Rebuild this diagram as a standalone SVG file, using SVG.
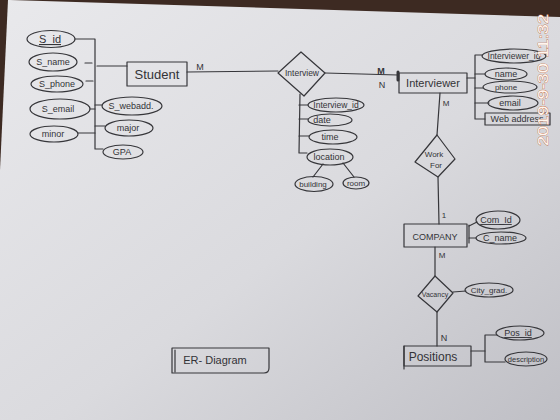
<svg xmlns="http://www.w3.org/2000/svg" width="560" height="420" viewBox="0 0 560 420">
<defs>
<linearGradient id="paper" x1="0" y1="0" x2="1" y2="1">
<stop offset="0" stop-color="#e9e9ec"/>
<stop offset="0.55" stop-color="#dadade"/>
<stop offset="1" stop-color="#bfbfc5"/>
</linearGradient>
<style>
.ink{fill:none;stroke:#36363a;stroke-width:1.2;stroke-linecap:round;stroke-linejoin:round}
.t{font-family:"Liberation Sans","DejaVu Sans",sans-serif;fill:#333337;text-anchor:middle}
.a{font-size:9px}
.k{text-decoration:underline}
</style>
</defs>
<rect x="0" y="0" width="560" height="420" fill="#3d2a22"/>
<polygon points="8,0 10,0 560,17 560,420 0,420 0,170" fill="url(#paper)"/>

<g id="connectors" class="ink">
<polyline points="75,39 95,39 95,149 103,149"/>
<line x1="85" y1="63" x2="92" y2="63"/>
<line x1="86" y1="81" x2="93" y2="81"/>
<line x1="90" y1="109" x2="95" y2="109"/>
<line x1="78" y1="133" x2="95" y2="133"/>
<line x1="95" y1="105" x2="102" y2="105"/>
<line x1="95" y1="126" x2="105" y2="126"/>
<line x1="97" y1="66" x2="127" y2="66"/>
<line x1="187" y1="72" x2="278" y2="71"/>
<line x1="325" y1="73" x2="398" y2="75"/>
<line x1="398" y1="72" x2="398" y2="80" stroke-width="3"/>
<polyline points="300,94 299,153 307,153"/>
<line x1="299" y1="105" x2="308" y2="105"/>
<line x1="299" y1="119" x2="308" y2="119"/>
<line x1="299" y1="136" x2="309" y2="136"/>
<line x1="323" y1="164" x2="313" y2="177"/>
<line x1="343" y1="163" x2="354" y2="177"/>
<line x1="467" y1="78" x2="475" y2="78"/>
<polyline points="482,55 475,55 475,119 485,119"/>
<line x1="475" y1="74" x2="485" y2="74"/>
<line x1="475" y1="88" x2="483" y2="88"/>
<line x1="475" y1="103" x2="489" y2="103"/>
<line x1="440" y1="93" x2="437" y2="135"/>
<line x1="438" y1="177" x2="439" y2="224"/>
<line x1="469" y1="225" x2="469" y2="243"/>
<line x1="469" y1="226" x2="477" y2="222"/>
<line x1="469" y1="238" x2="476" y2="238"/>
<line x1="435" y1="247" x2="435" y2="276"/>
<line x1="453" y1="292" x2="466" y2="291"/>
<line x1="437" y1="312" x2="437" y2="346"/>
<polyline points="471,351 485,351"/>
<polyline points="497,335 485,335 485,362 505,362"/>
</g>

<g id="cardinality" class="t">
<text x="200" y="70" font-size="9">M</text>
<text x="381" y="74" font-size="9" font-weight="bold">M</text>
<text x="382" y="88" font-size="9">N</text>
<text x="446" y="106" font-size="8">M</text>
<text x="444" y="218" font-size="8">1</text>
<text x="442" y="258" font-size="8">M</text>
<text x="444" y="341" font-size="9">N</text>
</g>

<g id="student">
<rect class="ink" x="127" y="62" width="60" height="24"/>
<text class="t" x="157" y="79" font-size="13">Student</text>
</g>
<g id="s_id"><ellipse class="ink" cx="51" cy="39" rx="24" ry="8.5"/><text class="t k" x="50" y="43" font-size="11">S_id</text></g>
<g id="s_name"><ellipse class="ink" cx="53" cy="62" rx="24" ry="9"/><text class="t a" x="53" y="65">S_name</text></g>
<g id="s_phone"><ellipse class="ink" cx="57" cy="84" rx="26" ry="8"/><text class="t a" x="57" y="87">S_phone</text></g>
<g id="s_email"><ellipse class="ink" cx="60" cy="109" rx="30" ry="10"/><text class="t a" x="58" y="112">S_email</text></g>
<g id="minor"><ellipse class="ink" cx="54" cy="134" rx="24" ry="8"/><text class="t a" x="53" y="137">minor</text></g>
<g id="s_webadd"><ellipse class="ink" cx="132" cy="106" rx="30" ry="9"/><text class="t a" x="131" y="109">S_webadd.</text></g>
<g id="major"><ellipse class="ink" cx="129" cy="128" rx="24" ry="8"/><text class="t a" x="128" y="131">major</text></g>
<g id="gpa"><ellipse class="ink" cx="123" cy="152" rx="20" ry="7"/><text class="t a" x="122" y="155">GPA</text></g>

<g id="interview">
<polygon class="ink" points="301,52 325,73 304,96 278,73"/>
<text class="t" x="302" y="76" font-size="8.5">Interview</text>
</g>
<g id="interview_id"><ellipse class="ink" cx="336" cy="105" rx="28" ry="7"/><text class="t" x="336" y="108" font-size="8.5">Interview_id</text></g>
<g id="date"><ellipse class="ink" cx="330" cy="120" rx="22" ry="6"/><text class="t a" x="322" y="123">date</text></g>
<g id="time"><ellipse class="ink" cx="333" cy="137" rx="24" ry="7"/><text class="t a" x="330" y="140">time</text></g>
<g id="location"><ellipse class="ink" cx="330" cy="157" rx="23" ry="8"/><text class="t a" x="329" y="160">location</text></g>
<g id="building"><ellipse class="ink" cx="314" cy="184" rx="19" ry="7.5"/><text class="t" x="313" y="187" font-size="8">building</text></g>
<g id="room"><ellipse class="ink" cx="356" cy="183" rx="13" ry="6"/><text class="t" x="356" y="186" font-size="8">room</text></g>

<g id="interviewer">
<rect class="ink" x="399" y="73" width="68" height="20"/>
<text class="t" x="433" y="87" font-size="11">Interviewer</text>
</g>
<g id="interviewer_id"><ellipse class="ink" cx="514" cy="56" rx="32" ry="7"/><text class="t" x="514" y="59" font-size="8.5">Interviewer_id</text></g>
<g id="name"><ellipse class="ink" cx="506" cy="74" rx="21" ry="6"/><text class="t a" x="506" y="77">name</text></g>
<g id="phone"><ellipse class="ink" cx="510" cy="87" rx="27" ry="6"/><text class="t" x="506" y="90" font-size="8">phone</text></g>
<g id="email"><ellipse class="ink" cx="513" cy="103" rx="25" ry="7"/><text class="t a" x="510" y="106">email</text></g>
<g id="web_address"><rect class="ink" x="485" y="113" width="65" height="12"/><text class="t a" x="517" y="122">Web address</text></g>

<g id="works_for">
<polygon class="ink" points="437,135 455,159 438,177 415,162"/>
<text class="t" x="434" y="157" font-size="8">Work</text>
<text class="t" x="436" y="168" font-size="8">For</text>
</g>

<g id="company">
<rect class="ink" x="404" y="224" width="63" height="23"/>
<text class="t" x="435" y="240" font-size="9">COMPANY</text>
</g>
<g id="com_id"><ellipse class="ink" cx="498" cy="220" rx="22" ry="9"/><text class="t k a" x="496" y="223">Com_Id</text></g>
<g id="c_name"><ellipse class="ink" cx="501" cy="238" rx="25" ry="6"/><text class="t a" x="500" y="241">C_name</text></g>

<g id="vacancy">
<polygon class="ink" points="435,276 453,293 437,312 418,296"/>
<text class="t" x="435" y="297" font-size="7">Vacancy</text>
</g>
<g id="city_grad"><ellipse class="ink" cx="489" cy="290" rx="24" ry="7"/><text class="t" x="489" y="293" font-size="8">City_grad.</text></g>

<g id="positions">
<rect class="ink" x="404" y="346" width="67" height="20"/>
<line class="ink" x1="404" y1="346" x2="404" y2="369"/>
<text class="t" x="433" y="361" font-size="12">Positions</text>
</g>
<g id="pos_id"><ellipse class="ink" cx="520" cy="333" rx="24" ry="7"/><text class="t k a" x="518" y="336">Pos_id</text></g>
<g id="description"><ellipse class="ink" cx="526" cy="359" rx="21" ry="7"/><text class="t" x="526" y="362" font-size="7.5">description</text></g>

<g id="er_diagram">
<path class="ink" d="M172,348 H269 V368 Q269,373 264,373 H172 Z"/>
<line class="ink" x1="175" y1="350" x2="175" y2="372"/>
<text class="t" x="215" y="364" font-size="11">ER- Diagram</text>
</g>

<text x="0" y="0" transform="translate(548,146) rotate(-90)" font-family="'Liberation Sans','DejaVu Sans',sans-serif" font-size="15" fill="#fff6f0" stroke="#c07048" stroke-width="0.7" paint-order="stroke" textLength="132" lengthAdjust="spacingAndGlyphs">2019-9-30 11:32</text>
</svg>
